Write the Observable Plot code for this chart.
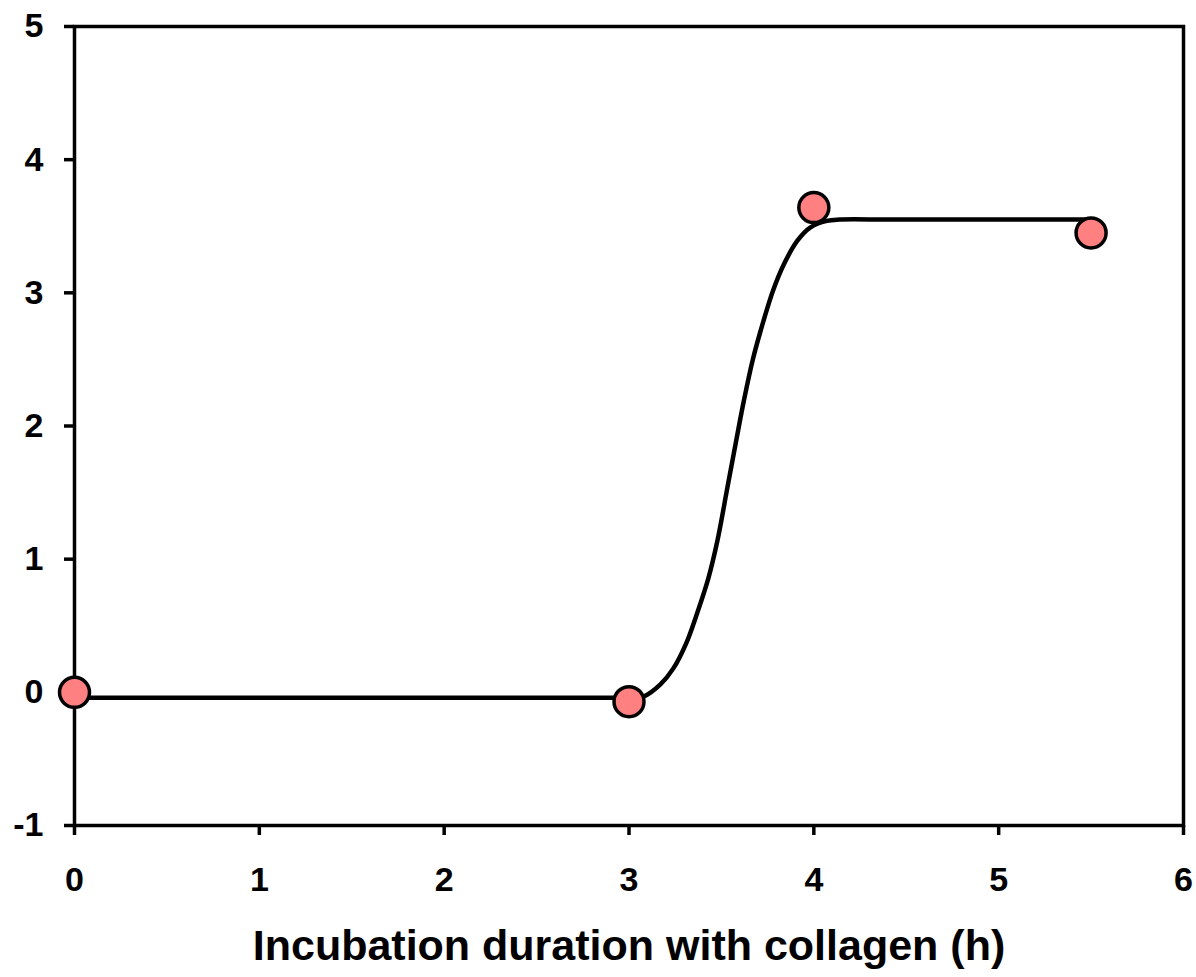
<!DOCTYPE html>
<html>
<head>
<meta charset="utf-8">
<script src="https://cdn.jsdelivr.net/npm/d3@7"></script>
<script src="https://cdn.jsdelivr.net/npm/@observablehq/plot@0.6"></script>
<style>
  html, body { margin: 0; padding: 0; background: #fff; }
  #chart svg { display: block; }
</style>
</head>
<body>
<div id="chart"></div>
<script>
// Measured data points
const pointX = [0, 3, 4, 5.5];
const pointY = [0, -0.07, 3.64, 3.45];

// Fitted curve
const curveX = [0, 1, 2, 2.8, 3.0, 3.08, 3.17, 3.24, 3.31, 3.37, 3.43, 3.48, 3.53, 3.58, 3.62, 3.67, 3.73, 3.78, 3.84, 3.91, 3.98, 4.07, 4.14, 4.4, 4.8, 5.2, 5.5];
const curveY = [-0.04, -0.04, -0.04, -0.04, -0.04, -0.03, 0.06, 0.18, 0.37, 0.6, 0.86, 1.15, 1.52, 1.89, 2.18, 2.5, 2.8, 3.02, 3.22, 3.39, 3.49, 3.54, 3.55, 3.55, 3.55, 3.55, 3.55];

const xTicks = [0, 1, 2, 3, 4, 5, 6];
const yTicks = [-1, 0, 1, 2, 3, 4, 5];
const xLabel = "Incubation duration with collagen (h)";

const points = pointX.map((x, i) => ({x, y: pointY[i]}));
const curve = curveX.map((x, i) => ({x, y: curveY[i]}));

const chart = Plot.plot({
  width: 1196,
  height: 977,
  marginLeft: 74,
  marginRight: 13,
  marginTop: 26,
  marginBottom: 152,
  style: {fontFamily: "'Liberation Sans', Arial, sans-serif", fontWeight: "bold", color: "#000", background: "#fff"},
  x: {domain: [0, 6]},
  y: {domain: [-1, 5]},
  marks: [
    Plot.frame({stroke: "#000", strokeWidth: 3.5}),
    Plot.axisX({ticks: xTicks, tickFormat: d => String(d), tickSize: 10, tickPadding: 31, strokeWidth: 3.5, fontSize: 34,
      label: xLabel, labelAnchor: "center", labelArrow: "none", labelOffset: 134}),
    Plot.axisY({ticks: yTicks, tickFormat: d => String(d), tickSize: 10, tickPadding: 21, strokeWidth: 3.5, fontSize: 34, label: null}),
    Plot.line(curve, {x: "x", y: "y", stroke: "#000", strokeWidth: 4.5, curve: "catmull-rom"}),
    Plot.dot(points, {x: "x", y: "y", r: 15, fill: "#ff8080", stroke: "#000", strokeWidth: 3.5})
  ]
});
chart.querySelectorAll("[aria-label='x-axis label'] text, g[aria-label='x-axis label']").forEach(el => {
  el.setAttribute("font-size", 43);
});
document.getElementById("chart").appendChild(chart);
</script>
</body>
</html>
